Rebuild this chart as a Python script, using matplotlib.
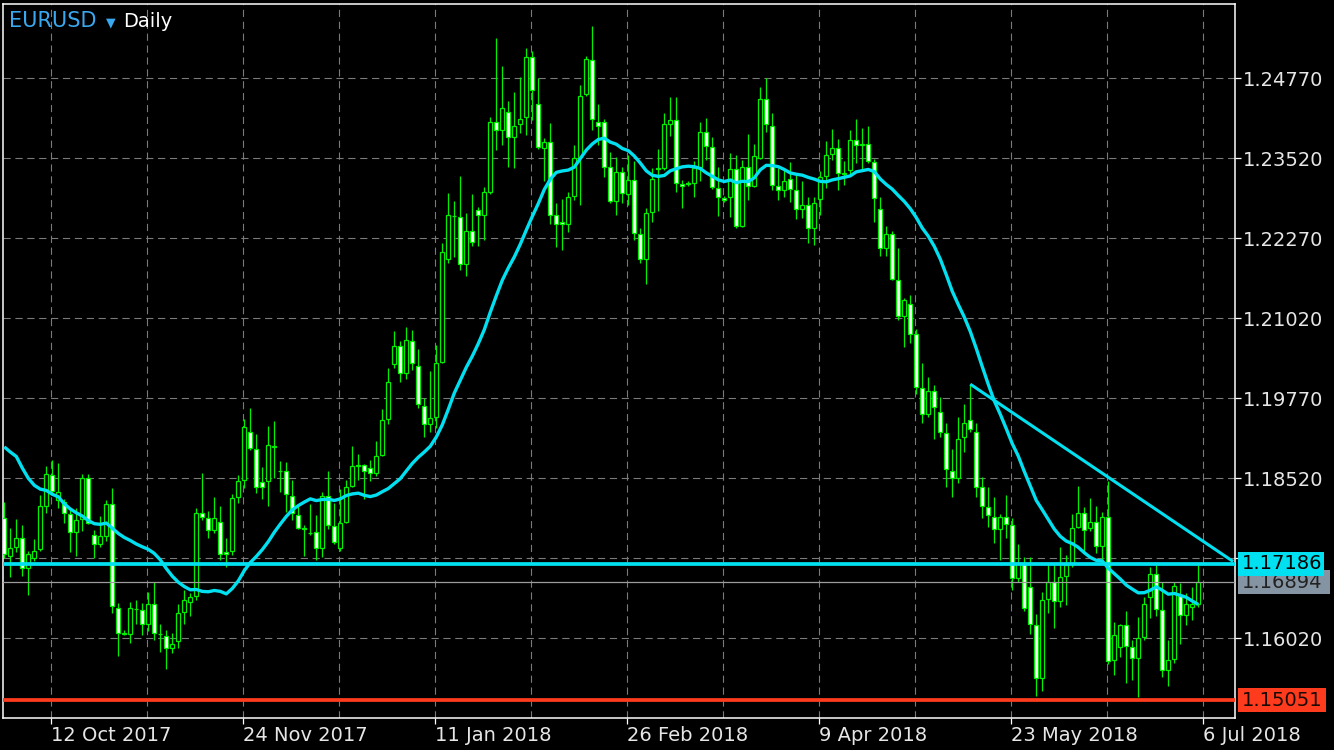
import numpy as np
import pandas as pd
import matplotlib
matplotlib.use("Agg")
import matplotlib.pyplot as plt
import matplotlib.transforms as mtrans
from matplotlib.patches import Rectangle

# ---------------- data (EURUSD daily) ----------------
opens = [
    1.1790, 1.1731, 1.1744, 1.1758, 1.1711, 1.1728, 1.1741, 1.1809, 1.1857, 1.1818,
    1.1815, 1.1796, 1.1768, 1.1788, 1.1852, 1.1764, 1.1750, 1.1762, 1.1811, 1.1650,
    1.1610, 1.1609, 1.1648, 1.1646, 1.1624, 1.1655, 1.1609, 1.1605, 1.1586, 1.1597,
    1.1643, 1.1658, 1.1668, 1.1797, 1.1790, 1.1771, 1.1784, 1.1737, 1.1739, 1.1822,
    1.1849, 1.1924, 1.1897, 1.1846, 1.1847, 1.1901, 1.1864, 1.1864, 1.1825, 1.1794,
    1.1774, 1.1767, 1.1768, 1.1743, 1.1825, 1.1777, 1.1743, 1.1783, 1.1840, 1.1872,
    1.1872, 1.1868, 1.1860, 1.1888, 1.1944, 1.2030, 1.2058, 1.2016, 1.2067, 1.2028,
    1.1965, 1.1936, 1.1947, 1.2033, 1.2195, 1.2262, 1.2260, 1.2186, 1.2238, 1.2271,
    1.2263, 1.2300, 1.2408, 1.2396, 1.2425, 1.2385, 1.2405, 1.2416, 1.2510, 1.2436,
    1.2368, 1.2377, 1.2263, 1.2252, 1.2250, 1.2293, 1.2354, 1.2452, 1.2505, 1.2408,
    1.2408, 1.2338, 1.2285, 1.2330, 1.2296, 1.2318, 1.2233, 1.2194, 1.2268, 1.2336,
    1.2336, 1.2405, 1.2411, 1.2311, 1.2313, 1.2313, 1.2338, 1.2393, 1.2369, 1.2305,
    1.2290, 1.2291, 1.2335, 1.2246, 1.2339, 1.2308, 1.2352, 1.2444, 1.2403, 1.2308,
    1.2302, 1.2319, 1.2302, 1.2272, 1.2279, 1.2243, 1.2288, 1.2324, 1.2358, 1.2368,
    1.2329, 1.2333, 1.2380, 1.2372, 1.2374, 1.2346, 1.2272, 1.2211, 1.2233, 1.2161,
    1.2105, 1.2124, 1.2077, 1.1993, 1.1952, 1.1988, 1.1955, 1.1922, 1.1864, 1.1852,
    1.1916, 1.1943, 1.1925, 1.1838, 1.1807, 1.1792, 1.1773, 1.1791, 1.1779, 1.1696,
    1.1719, 1.1682, 1.1622, 1.1540, 1.1664, 1.1690, 1.1660, 1.1699, 1.1718, 1.1776,
    1.1797, 1.1774, 1.1783, 1.1746, 1.1791, 1.1568, 1.1588, 1.1622, 1.1588, 1.1571,
    1.1604, 1.1666, 1.1702, 1.1646, 1.1552, 1.1569, 1.1668, 1.1639, 1.1651, 1.1655,
]
highs = [
    1.1815, 1.1775, 1.1788, 1.1779, 1.1739, 1.1757, 1.1826, 1.1871, 1.1881, 1.1876,
    1.1820, 1.1803, 1.1805, 1.1859, 1.1859, 1.1771, 1.1793, 1.1818, 1.1836, 1.1657,
    1.1615, 1.1658, 1.1662, 1.1657, 1.1674, 1.1690, 1.1624, 1.1615, 1.1610, 1.1656,
    1.1677, 1.1672, 1.1805, 1.1860, 1.1801, 1.1823, 1.1809, 1.1759, 1.1827, 1.1857,
    1.1945, 1.1962, 1.1921, 1.1869, 1.1933, 1.1942, 1.1879, 1.1877, 1.1849, 1.1808,
    1.1779, 1.1812, 1.1794, 1.1831, 1.1863, 1.1814, 1.1835, 1.1849, 1.1903, 1.1890,
    1.1875, 1.1880, 1.1910, 1.1960, 1.2025, 1.2082, 1.2067, 1.2089, 1.2084, 1.2054,
    1.1977, 1.2020, 1.2060, 1.2220, 1.2298, 1.2285, 1.2325, 1.2267, 1.2296, 1.2276,
    1.2307, 1.2416, 1.2540, 1.2496, 1.2441, 1.2456, 1.2479, 1.2524, 1.2519, 1.2477,
    1.2383, 1.2407, 1.2282, 1.2288, 1.2299, 1.2372, 1.2466, 1.2512, 1.2558, 1.2436,
    1.2414, 1.2361, 1.2354, 1.2338, 1.2357, 1.2348, 1.2243, 1.2274, 1.2336, 1.2366,
    1.2422, 1.2447, 1.2447, 1.2318, 1.2316, 1.2347, 1.2408, 1.2415, 1.2385, 1.2338,
    1.2293, 1.2360, 1.2357, 1.2350, 1.2390, 1.2374, 1.2463, 1.2477, 1.2422, 1.2336,
    1.2333, 1.2346, 1.2329, 1.2316, 1.2291, 1.2291, 1.2332, 1.2379, 1.2397, 1.2382,
    1.2347, 1.2396, 1.2414, 1.2399, 1.2402, 1.2351, 1.2291, 1.2246, 1.2239, 1.2211,
    1.2134, 1.2139, 1.2085, 1.2032, 1.2010, 1.1997, 1.1979, 1.1939, 1.1897, 1.1947,
    1.1968, 1.1999, 1.1939, 1.1854, 1.1838, 1.1823, 1.1796, 1.1826, 1.1790, 1.1750,
    1.1729, 1.1729, 1.1640, 1.1675, 1.1719, 1.1719, 1.1744, 1.1732, 1.1796, 1.1840,
    1.1807, 1.1821, 1.1808, 1.1800, 1.1847, 1.1627, 1.1625, 1.1644, 1.1600, 1.1635,
    1.1666, 1.1713, 1.1719, 1.1690, 1.1600, 1.1690, 1.1688, 1.1672, 1.1682, 1.1718,
]
lows = [
    1.1727, 1.1697, 1.1736, 1.1700, 1.1670, 1.1723, 1.1738, 1.1797, 1.1826, 1.1806,
    1.1782, 1.1737, 1.1731, 1.1769, 1.1781, 1.1727, 1.1744, 1.1754, 1.1641, 1.1575,
    1.1607, 1.1594, 1.1625, 1.1607, 1.1613, 1.1599, 1.1581, 1.1554, 1.1579, 1.1586,
    1.1624, 1.1637, 1.1662, 1.1786, 1.1758, 1.1766, 1.1724, 1.1714, 1.1732, 1.1814,
    1.1836, 1.1896, 1.1829, 1.1819, 1.1809, 1.1852, 1.1830, 1.1800, 1.1787, 1.1773,
    1.1731, 1.1764, 1.1724, 1.1729, 1.1772, 1.1750, 1.1739, 1.1782, 1.1838, 1.1849,
    1.1819, 1.1848, 1.1856, 1.1886, 1.1937, 1.2025, 1.2003, 1.2007, 1.2021, 1.1961,
    1.1917, 1.1925, 1.1930, 1.2032, 1.2189, 1.2197, 1.2178, 1.2168, 1.2215, 1.2215,
    1.2225, 1.2296, 1.2365, 1.2372, 1.2339, 1.2337, 1.2392, 1.2388, 1.2411, 1.2366,
    1.2317, 1.2249, 1.2214, 1.2208, 1.2237, 1.2286, 1.2279, 1.2449, 1.2396, 1.2372,
    1.2322, 1.2282, 1.2263, 1.2282, 1.2279, 1.2224, 1.2189, 1.2156, 1.2253, 1.2270,
    1.2333, 1.2387, 1.2300, 1.2275, 1.2309, 1.2292, 1.2317, 1.2350, 1.2304, 1.2262,
    1.2284, 1.2260, 1.2243, 1.2244, 1.2287, 1.2307, 1.2351, 1.2393, 1.2303, 1.2286,
    1.2292, 1.2283, 1.2257, 1.2258, 1.2220, 1.2217, 1.2263, 1.2305, 1.2350, 1.2302,
    1.2310, 1.2324, 1.2344, 1.2334, 1.2344, 1.2252, 1.2200, 1.2200, 1.2161, 1.2099,
    1.2057, 1.2064, 1.1983, 1.1939, 1.1948, 1.1913, 1.1917, 1.1839, 1.1823, 1.1844,
    1.1893, 1.1925, 1.1823, 1.1790, 1.1776, 1.1751, 1.1724, 1.1758, 1.1677, 1.1690,
    1.1645, 1.1608, 1.1511, 1.1519, 1.1642, 1.1618, 1.1651, 1.1654, 1.1714, 1.1774,
    1.1734, 1.1769, 1.1735, 1.1725, 1.1562, 1.1544, 1.1573, 1.1532, 1.1536, 1.1510,
    1.1599, 1.1633, 1.1636, 1.1541, 1.1528, 1.1563, 1.1593, 1.1622, 1.1630, 1.1651,
]
closes = [
    1.1734, 1.1743, 1.1758, 1.1711, 1.1733, 1.1739, 1.1808, 1.1858, 1.1832, 1.1830,
    1.1797, 1.1768, 1.1786, 1.1852, 1.1782, 1.1750, 1.1761, 1.1811, 1.1652, 1.1610,
    1.1609, 1.1649, 1.1647, 1.1624, 1.1655, 1.1610, 1.1608, 1.1586, 1.1593, 1.1641,
    1.1662, 1.1666, 1.1797, 1.1791, 1.1771, 1.1790, 1.1733, 1.1733, 1.1821, 1.1847,
    1.1932, 1.1899, 1.1838, 1.1838, 1.1904, 1.1902, 1.1863, 1.1827, 1.1797, 1.1774,
    1.1773, 1.1766, 1.1743, 1.1825, 1.1779, 1.1752, 1.1782, 1.1838, 1.1871, 1.1871,
    1.1864, 1.1860, 1.1886, 1.1943, 1.2002, 1.2058, 1.2016, 1.2068, 1.2032, 1.1968,
    1.1936, 1.1946, 1.2032, 1.2205, 1.2263, 1.2261, 1.2186, 1.2238, 1.2221, 1.2263,
    1.2299, 1.2408, 1.2396, 1.2430, 1.2385, 1.2403, 1.2414, 1.2510, 1.2458, 1.2369,
    1.2377, 1.2264, 1.2249, 1.2249, 1.2291, 1.2352, 1.2450, 1.2507, 1.2413, 1.2403,
    1.2339, 1.2285, 1.2330, 1.2297, 1.2318, 1.2235, 1.2194, 1.2266, 1.2319, 1.2335,
    1.2405, 1.2411, 1.2313, 1.2308, 1.2312, 1.2336, 1.2393, 1.2371, 1.2307, 1.2291,
    1.2286, 1.2335, 1.2246, 1.2339, 1.2308, 1.2355, 1.2444, 1.2405, 1.2310, 1.2302,
    1.2316, 1.2304, 1.2272, 1.2279, 1.2243, 1.2282, 1.2322, 1.2357, 1.2368, 1.2329,
    1.2328, 1.2380, 1.2372, 1.2375, 1.2347, 1.2290, 1.2211, 1.2233, 1.2163, 1.2105,
    1.2130, 1.2078, 1.1994, 1.1952, 1.1988, 1.1964, 1.1924, 1.1866, 1.1852, 1.1914,
    1.1939, 1.1929, 1.1839, 1.1808, 1.1795, 1.1773, 1.1792, 1.1781, 1.1696, 1.1719,
    1.1650, 1.1625, 1.1540, 1.1661, 1.1690, 1.1660, 1.1697, 1.1716, 1.1774, 1.1797,
    1.1771, 1.1783, 1.1746, 1.1791, 1.1566, 1.1607, 1.1622, 1.1590, 1.1571, 1.1602,
    1.1655, 1.1702, 1.1647, 1.1552, 1.1568, 1.1683, 1.1639, 1.1655, 1.1656, 1.16894,
]
# moving-average values read for the first bars (period extends before the window)
ma_head = [1.1901, 1.1893, 1.1886, 1.1868, 1.1852, 1.1841, 1.1835, 1.1833, 1.1827, 1.1823,
           1.1812, 1.1804, 1.1798, 1.1793, 1.1786, 1.1781, 1.1780, 1.1782, 1.1774]
ma_period = 20

# price-axis levels and labels (the 1.17270 label is hidden behind the line label)
price_levels = [1.16020, 1.17270, 1.18520, 1.19770, 1.21020, 1.22270, 1.23520, 1.24770]
price_labels = ["1.16020", "", "1.18520", "1.19770", "1.21020", "1.22270", "1.23520", "1.24770"]
date_bars = [8, 40, 72, 104, 136, 168, 200]
date_labels = ["12 Oct 2017", "24 Nov 2017", "11 Jan 2018", "26 Feb 2018",
               "9 Apr 2018", "23 May 2018", "6 Jul 2018"]

hline_level = 1.17186       # horizontal cyan line
bid_level = 1.16894         # current price
red_level = 1.15051         # red horizontal line
trend_x = [161, 204.8]      # trend line anchors (bar index)
trend_y = [1.1999, 1.1722]

symbol = "EURUSD"
timeframe = "Daily"

# ---------------- style ----------------
GREEN = "#00F000"
CYAN = "#00E0F0"
RED = "#FF3B1E"
GRAY_BOX = "#8594A3"
TXT = "#E6E6E6"
FONT = "DejaVu Sans"
plt.rcParams["font.family"] = [FONT]

W, H = 1334, 750
fig = plt.figure(figsize=(W / 100, H / 100), dpi=100, facecolor="black")
L, R, T, B = 3, 1235, 4, 718
ax = fig.add_axes([L / W, 1 - B / H, (R - L) / W, (B - T) / H])
ax.set_facecolor("black")

o = np.array(opens); h = np.array(highs); lo = np.array(lows); c = np.array(closes)
x = np.arange(len(c))

ax.set_xlim(-0.217, 205.12)
ax.set_ylim(1.14774, 1.25930)

# grid
for gx in np.arange(7.78, 205, 16):
    ax.axvline(gx, color="#7a7a7a", lw=0.8, dashes=(6.5, 4.2), zorder=1)
for gy in price_levels:
    ax.axhline(gy, color="#7a7a7a", lw=0.8, dashes=(6.5, 4.2), zorder=1)

# candles
up = c >= o
ax.vlines(x, lo, h, color=GREEN, lw=0.9, zorder=2)
ax.bar(x, np.abs(c - o), bottom=np.minimum(o, c), width=0.64,
       color=np.where(up, "black", "white"), edgecolor=GREEN, linewidth=0.9, zorder=3)

# moving average
ma = pd.Series(c).rolling(ma_period).mean().to_numpy()
ma[:len(ma_head)] = ma_head
ax.plot(x, ma, color=CYAN, lw=2.4, zorder=5, solid_capstyle="butt")

# lines
ax.axhline(hline_level, color=CYAN, lw=2.7, zorder=6)
ax.axhline(bid_level, color="#9c9c9c", lw=0.9, zorder=4)
ax.axhline(red_level, color=RED, lw=2.7, zorder=6)
ax.plot(trend_x, trend_y, color=CYAN, lw=2.2, zorder=6, solid_capstyle="butt")

# axes / ticks
for s in ax.spines.values():
    s.set_color("white")
    s.set_linewidth(1.1)
ax.yaxis.tick_right()
ax.set_yticks(price_levels)
ax.set_yticklabels(price_labels)
ax.tick_params(axis="y", colors="white", labelcolor=TXT, length=4.3, width=0.9,
               pad=1.5, labelsize=14, direction="out")
ax.set_xticks(np.array(date_bars) - 0.22)
ax.set_xticklabels(date_labels, ha="left")
ax.tick_params(axis="x", colors="white", labelcolor=TXT, length=4.0, width=0.9,
               pad=2.0, labelsize=14, direction="out")

# price label boxes on the right
blend = mtrans.blended_transform_factory(fig.transFigure, ax.transData)
box_h = 24 / 6400
for lvl, bg, fg, wpx, z in [(bid_level, GRAY_BOX, "#222222", 92, 10),
                            (hline_level, CYAN, "#000000", 86, 11),
                            (red_level, RED, "#1a0a05", 88, 11)]:
    ax.add_patch(Rectangle((1238 / W, lvl - box_h / 2), wpx / W, box_h, transform=blend,
                           facecolor=bg, edgecolor="none", clip_on=False, zorder=z))
    ax.text(1242 / W, lvl, f"{lvl:.5f}", transform=blend, color=fg, fontsize=14,
            va="center", ha="left", clip_on=False, zorder=z + 0.5)

# header
fig.text(9 / W, 1 - 26.7 / H, symbol, color="#3AA8F0", fontsize=15, va="baseline")
fig.text(110.5 / W, 1 - 26.5 / H, "\u25BC", color="#3AA8F0", fontsize=9, va="baseline",
         ha="center")
fig.text(123 / W, 1 - 26.7 / H, timeframe, color="white", fontsize=14, va="baseline")

fig.savefig("out.png", dpi=100, facecolor="black")
